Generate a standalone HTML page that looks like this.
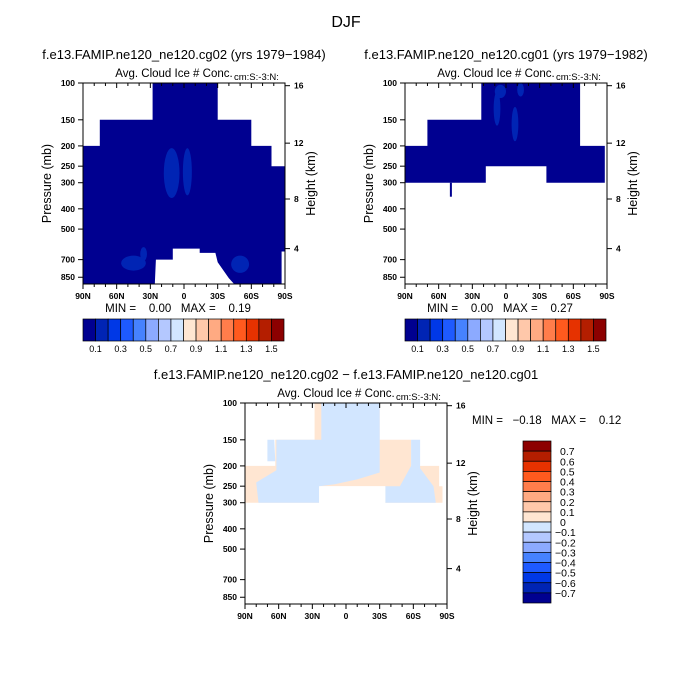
<!DOCTYPE html>
<html><head><meta charset="utf-8"><style>
body{margin:0;background:#fff}
svg{display:block;font-family:"Liberation Sans",sans-serif}
text{white-space:pre}
</style></head><body>
<svg id="fig" width="692" height="690" viewBox="0 0 692 690">
<rect width="692" height="690" fill="#fff"/>
<text x="346" y="27" font-size="16" text-anchor="middle">DJF</text>
<g id="root"></g>
</svg>
<script>
// ---------- data ----------
const latTicks=[90,60,30,0,-30,-60,-90];
const latLabels=["90N","60N","30N","0","30S","60S","90S"];
const pTicks=[100,150,200,250,300,400,500,700,850];
const kmTicks=[16,12,8,4];
const kmPress=[103,194,359,620];
const barColors=["#000090","#0024b4","#0038e6","#1e5aff","#4682ff","#8caaff","#b4c8ff","#d2e6ff","#ffe6d2","#ffc8aa","#ffaa82","#ff7d4b","#ff5a1e","#e63200","#b41e00","#8c0000"];
const topBarLabels=["0.1","0.3","0.5","0.7","0.9","1.1","1.3","1.5"];
const diffBarLabels=["0.7","0.6","0.5","0.4","0.3","0.2","0.1","0","-0.1","-0.2","-0.3","-0.4","-0.5","-0.6","-0.7"];
// panel 1 field outline [lat,p]
const p1Field=[[90,200],[75,200],[75,150],[28,150],[28,100],[-30,100],[-30,150],[-60,150],[-60,200],[-78,200],[-78,250],[-90,250],[-90,640],[-87,640],[-87,920],[90,920]];
const p1Hole=[[26,920],[25,700],[10,700],[10,620],[-14,620],[-14,650],[-28,650],[-30,720],[-40,860],[-45,920]];
// [lat, p, halfWidthDeg, halfHeightMb]
const p1Blobs=[[-3,275,4,70],[11,280,7,75],[45,730,11,60],[36,660,3,50],[-50,740,8,70]];
// panel 2 field outline
const p2Field=[[90,300],[90,200],[70,200],[70,150],[22,150],[22,100],[-66,100],[-66,200],[-88,200],[-88,300],[-36,300],[-36,250],[18,250],[18,300]];
const p2Blobs=[[-8,160,3,30],[8,135,3,25],[5,110,5,8],[-13,108,3,8]];
// diff panel
const dPeach=[[90,300],[90,200],[63,200],[63,150],[28,150],[28,100],[-30,100],[-30,150],[-58,150],[-58,200],[-83,200],[-83,250],[-86,250],[-86,300],[-35,300],[-35,250],[24,250],[24,300]];
const dBlue1=[[22,100],[-30,100],[-30,215],[-10,232],[10,245],[24,250],[24,300],[78,300],[80,240],[62,210],[62,150],[22,150]];
const dBlue2=[[-35,250],[-48,250],[-58,200],[-58,150],[-66,150],[-66,205],[-78,250],[-80,300],[-35,300]];
const dBlue3=[[70,150],[64,150],[63,190],[70,190]];
const dHole=[[24,250],[-35,250],[-35,300],[24,300]];
// ---------- helpers ----------
const NS="http://www.w3.org/2000/svg",root=document.getElementById('root');
function el(t,a,p){const e=document.createElementNS(NS,t);for(const k in a)e.setAttribute(k,a[k]);(p||root).appendChild(e);return e;}
function txt(x,y,s,size,anchor,p){const e=el('text',{x:x,y:y,'font-size':size,'text-anchor':anchor||'middle'},p);e.textContent=s;return e;}
function axes(x0,y0){const W=202,H=201;return{W,H,X:lat=>x0+(90-lat)/180*W,Y:p=>y0+209*Math.log10(p/100)};}
function poly(ax,pts,fill,name,g){const e=el('polygon',{points:pts.map(q=>ax.X(q[0]).toFixed(1)+','+ax.Y(q[1]).toFixed(1)).join(' '),fill:fill},g);

return e;}
function blobs(ax,arr,fill,g){arr.forEach((b)=>{const cx=ax.X(b[0]);const y1=ax.Y(b[1]-b[3]),y2=ax.Y(b[1]+b[3]);const rx=b[2]/180*ax.W;
const e=el('ellipse',{cx:cx,cy:(y1+y2)/2,rx:rx,ry:(y2-y1)/2,fill:fill},g);

});}
function frame(ax,x0,y0,g){
 el('rect',{x:x0,y:y0,width:ax.W,height:ax.H,fill:'none',stroke:'#000','stroke-width':1},g);
 for(let l=90;l>=-90;l-=10){const x=ax.X(l);el('line',{x1:x,x2:x,y1:y0+ax.H,y2:y0+ax.H+(l%30==0?5:3),stroke:'#000'},g);el('line',{x1:x,x2:x,y1:y0,y2:y0+(l%30==0?5:3),stroke:'#000'},g);}
 latTicks.forEach((l,i)=>{const t=txt(ax.X(l),y0+ax.H+15,latLabels[i],8.5,'middle',g);t.setAttribute('font-weight','bold');
 
 });
 pTicks.forEach(p=>{const y=ax.Y(p);el('line',{x1:x0-5,x2:x0,y1:y,y2:y,stroke:'#000'},g);const t=txt(x0-8,y+3,String(p),8.5,'end',g);t.setAttribute('font-weight','bold');
 
 });
 kmTicks.forEach((k,i)=>{const y=ax.Y(kmPress[i]);el('line',{x1:x0+ax.W,x2:x0+ax.W+5,y1:y,y2:y,stroke:'#000'},g);const t=txt(x0+ax.W+9,y+3,String(k),8.5,'start',g);t.setAttribute('font-weight','bold');
 
 });
 const yl=txt(0,0,'Pressure (mb)',12.5,'middle',g);yl.setAttribute('transform',`translate(${x0-32},${y0+ax.H/2}) rotate(-90)`);
 
 
 const yr=txt(0,0,'Height (km)',12.5,'middle',g);yr.setAttribute('transform',`translate(${x0+ax.W+30},${y0+ax.H/2}) rotate(-90)`);
 
 
 const st=txt(x0+ax.W/2-10,y0-6,'Avg. Cloud Ice # Conc.',11.5,'middle',g);
 
 
 const su=txt(x0+ax.W/2+50,y0-3,'cm:S:-3:N:',9.5,'start',g);
 
 
}
function hbar(x0,y0,g){const w=201/16;barColors.forEach((c,i)=>{const r=el('rect',{x:x0+i*w,y:y0,width:w,height:22,fill:c,stroke:'#000','stroke-width':0.7},g);

});
 topBarLabels.forEach((s,i)=>{const t=txt(x0+(2*i+1)*w,y0+33,s,9,'middle',g);
 
 });}
function panel(x0,y0,title,name,draw,minmax){
 const g=el('g',{});
 const ax=axes(x0,y0);draw(ax,g);frame(ax,x0,y0,g);
 const t=txt(x0+ax.W/2,y0-24,title,13,'middle',g);
 
 
 if(minmax){const m=txt(x0+ax.W/2-6,y0+ax.H+28,minmax,11.5,'middle',g);
 
 
 hbar(x0,y0+ax.H+35,g);}
 return g;}
panel(83,83,'f.e13.FAMIP.ne120_ne120.cg02 (yrs 1979\u22121984)','panel-cg02',(ax,g)=>{
 poly(ax,p1Field,'#000090','field-region',g);poly(ax,p1Hole,'#fff','missing-region',g);blobs(ax,p1Blobs,'#0024b4',g);
},'MIN =    0.00   MAX =    0.19');
panel(405,83,'f.e13.FAMIP.ne120_ne120.cg01 (yrs 1979\u22121982)','panel-cg01',(ax,g)=>{
 poly(ax,p2Field,'#000090','field-region',g);blobs(ax,p2Blobs,'#0024b4',g);
 const r=el('rect',{x:ax.X(50),y:ax.Y(300),width:2,height:ax.Y(350)-ax.Y(300),fill:'#000090'},g);
 
 
},'MIN =    0.00   MAX =    0.27');
const gd=panel(245,403,'f.e13.FAMIP.ne120_ne120.cg02 \u2212 f.e13.FAMIP.ne120_ne120.cg01','panel-difference',(ax,g)=>{
 poly(ax,dPeach,'#ffe6d2','positive-region',g);poly(ax,dBlue1,'#d2e6ff','negative-region',g);poly(ax,dBlue2,'#d2e6ff','negative-region',g);poly(ax,dBlue3,'#d2e6ff','negative-region',g);poly(ax,dHole,'#fff','missing-region',g);
},null);
const mm=txt(472,424,'MIN =   \u22120.18   MAX =    0.12',11.5,'start',gd);


const bh=162/16;barColors.slice().reverse().forEach((c,i)=>{const r=el('rect',{x:523,y:441+i*bh,width:28,height:bh,fill:c,stroke:'#000','stroke-width':0.7},gd);

});
diffBarLabels.forEach((s,i)=>{const t=txt(s[0]=='-'?555:560,441+(i+1)*bh+4,s.replace('-','\u2212'),10.5,'start',gd);

});
</script>
</body></html>
